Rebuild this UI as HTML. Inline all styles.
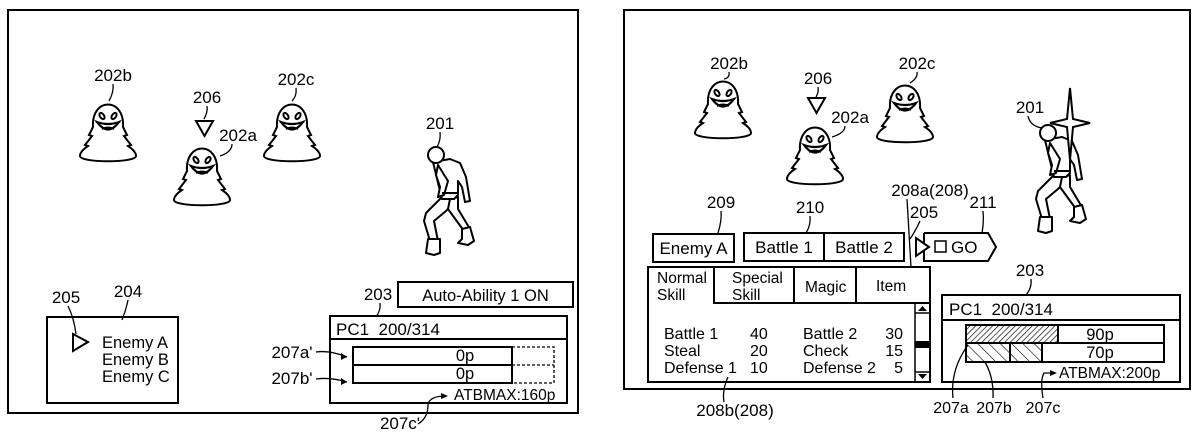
<!DOCTYPE html>
<html><head><meta charset="utf-8"><style>
html,body{margin:0;padding:0;background:#fff;}
svg{display:block;}
text{font-family:"Liberation Sans",sans-serif;fill:#000;}
</style></head><body>
<svg width="1200" height="437" viewBox="0 0 1200 437" xmlns="http://www.w3.org/2000/svg">
<defs>
<g id="ghost" fill="none" stroke="#000" stroke-width="2">
<path d="M-15 24 C-17 -6 17 -6 15 24 L19 32 L16 33 L23 42 L20 43 C26 47 28 50 28 53 C28 60 -28 60 -28 53 C-28 50 -26 47 -20 43 L-23 42 L-16 33 L-19 32 Z" fill="#fff"/>
<ellipse cx="-6" cy="13" rx="2" ry="3.5" transform="rotate(-35 -6 13)"/>
<ellipse cx="6" cy="13" rx="2" ry="3.5" transform="rotate(35 6 13)"/>
<path d="M-11 19 Q0 34 11 19 Q0 23 -11 19 Z" stroke-width="2.2"/>
<path d="M-6 26 Q0 23 6 26"/>
</g>
<g id="hero" fill="#fff" stroke="#000" stroke-width="2" stroke-linejoin="round">
<path d="M6 42 L-10 58 L-12 66 L-6 86 L2 86 L-2 66 L10 56 L22 44 Z"/>
<path d="M14 44 L12 54 L28 76 L34 74 L22 54 L22 42 Z"/>
<path d="M-8 84 L-10 98 L-2 100 L4 98 L4 84 Z"/>
<path d="M26 74 L26 84 L22 88 L32 90 L38 86 L34 72 Z"/>
<path d="M-3 7 L14 4 L24 8 L30 22 L34 46 L29 47 L26 32 L22 26 L22 40 L18 44 L6 44 L4 36 Z"/>
<path d="M2 10 L12 26 L8 40 L2 42 L4 32 L0 20 Z"/>
<path d="M6 38 L22 38" />
<circle cx="0" cy="0" r="8"/>
</g>
</defs>

<!-- LEFT PANEL -->
<rect x="8" y="10" width="570" height="403" fill="none" stroke="#000" stroke-width="2"/>
<use href="#ghost" x="108" y="103"/>
<use href="#ghost" x="202" y="147"/>
<use href="#ghost" x="292" y="103"/>
<use href="#hero" x="436" y="155"/>
<path d="M196 121 L213 121 L204.5 136 Z" fill="none" stroke="#000" stroke-width="2"/>
<g font-size="17" text-anchor="middle">
<text x="113" y="81">202b</text>
<text x="207" y="103">206</text>
<text x="238" y="141">202a</text>
<text x="296" y="85">202c</text>
<text x="440" y="129">201</text>
</g>
<g fill="none" stroke="#000" stroke-width="1.3">
<path d="M113 84 Q114 92 109 101"/><path d="M207 106 Q208 112 204 119"/>
<path d="M232 144 Q232 152 220 156"/><path d="M296 88 Q297 96 292 101"/>
<path d="M440 132 Q441 140 437 147"/>
</g>

<rect x="47" y="317" width="131" height="86" fill="none" stroke="#000" stroke-width="2"/>
<path d="M73 334 L88 342 L73 351 Z" fill="none" stroke="#000" stroke-width="2"/>
<g font-size="16.5">
<text x="102" y="348">Enemy A</text>
<text x="102" y="365">Enemy B</text>
<text x="102" y="382">Enemy C</text>
</g>
<g font-size="17" text-anchor="middle">
<text x="66" y="303">205</text>
<text x="128" y="297">204</text>
</g>
<path d="M68 306 Q74 318 76 334 M128 300 Q126 310 122 320" fill="none" stroke="#000" stroke-width="1.3"/>

<rect x="398" y="282" width="175" height="25" fill="none" stroke="#000" stroke-width="2"/>
<text x="485.5" y="301" font-size="16.5" text-anchor="middle">Auto-Ability 1 ON</text>
<text x="378" y="300" font-size="17" text-anchor="middle">203</text>
<path d="M380 303 Q381 310 376 317" fill="none" stroke="#000" stroke-width="1.3"/>
<rect x="330" y="316" width="237" height="87" fill="none" stroke="#000" stroke-width="2"/>
<line x1="330" y1="339" x2="567" y2="339" stroke="#000" stroke-width="2"/>
<text x="336" y="335" font-size="17" xml:space="preserve">PC1  200/314</text>
<rect x="353" y="347" width="159" height="36" fill="none" stroke="#000" stroke-width="2"/>
<line x1="353" y1="365" x2="512" y2="365" stroke="#000" stroke-width="2"/>
<path d="M512 347 L554 347 L554 383 L512 383 M512 365 L554 365" fill="none" stroke="#000" stroke-width="1.3" stroke-dasharray="3,2"/>
<g font-size="16.5" text-anchor="middle">
<text x="465" y="361">0p</text><text x="465" y="379">0p</text>
</g>
<g font-size="17" text-anchor="middle">
<text x="292" y="358">207a'</text><text x="292" y="384">207b'</text>
<text x="400" y="429">207c'</text>
</g>
<text x="454" y="400" font-size="15.5">ATBMAX:160p</text>
<g fill="none" stroke="#000" stroke-width="1.3">
<path d="M316 352 Q330 350 347 357"/><path d="M316 379 Q330 377 347 382"/>
<path d="M418 424 Q428 418 428 405 Q429 396 446 396"/>
</g>
<path d="M347 357 L341 353 L341 360 Z M347 382 L341 378 L341 385 Z M448 396 L441 393 L441 399 Z" fill="#000"/>

<!-- RIGHT PANEL -->
<rect x="624" y="10" width="566" height="379" fill="none" stroke="#000" stroke-width="2"/>
<use href="#ghost" x="723" y="80"/>
<use href="#ghost" x="815" y="126"/>
<use href="#ghost" x="905" y="84"/>
<use href="#hero" x="1048" y="133"/>
<path d="M1070 88 L1073 119 L1090 123 L1073 127 L1070 160 L1067 127 L1050 123 L1067 119 Z" fill="#fff" stroke="#000" stroke-width="2"/>
<path d="M808 98 L825 98 L816.5 113 Z" fill="none" stroke="#000" stroke-width="2"/>
<g font-size="17" text-anchor="middle">
<text x="729" y="69">202b</text>
<text x="818" y="84">206</text>
<text x="850" y="123">202a</text>
<text x="917" y="69">202c</text>
<text x="1030" y="113">201</text>
<text x="930" y="196">208a(208)</text>
<text x="721" y="208">209</text>
<text x="810" y="213">210</text>
<text x="924" y="218">205</text>
<text x="983" y="208">211</text>
</g>
<g fill="none" stroke="#000" stroke-width="1.3">
<path d="M729 72 Q730 78 724 79"/><path d="M818 87 Q819 92 816 97"/>
<path d="M845 126 Q845 133 832 137"/><path d="M917 72 Q918 78 910 83"/>
<path d="M1028 116 Q1030 126 1042 128"/>
<path d="M721 211 Q722 220 718 233"/><path d="M810 216 Q811 225 806 233"/>
<path d="M920 221 Q916 230 910 239"/><path d="M983 211 Q984 222 982 233"/>
<path d="M907 199 L911 267"/>
</g>

<rect x="653" y="234" width="81" height="28" fill="none" stroke="#000" stroke-width="2"/>
<text x="693.5" y="254" font-size="17" text-anchor="middle">Enemy A</text>
<rect x="744" y="233" width="160" height="28" fill="none" stroke="#000" stroke-width="2"/>
<line x1="824" y1="233" x2="824" y2="261" stroke="#000" stroke-width="2"/>
<text x="784" y="253" font-size="17" text-anchor="middle">Battle 1</text>
<text x="864" y="253" font-size="17" text-anchor="middle">Battle 2</text>
<path d="M916 238 L929 247 L916 256 Z" fill="none" stroke="#000" stroke-width="2"/>
<path d="M924 233 L988 233 L996 247 L988 261 L924 261 L924 251 M924 243 L924 233" fill="none" stroke="#000" stroke-width="2"/>
<rect x="935" y="241" width="11" height="11" fill="none" stroke="#000" stroke-width="1.5"/>
<text x="951" y="253" font-size="17">GO</text>

<path d="M648 267 L930 267 L930 382 L648 382 Z" fill="none" stroke="#000" stroke-width="2"/>
<path d="M714 267 L714 303 L930 303 M794 267 L794 303 M856 267 L856 303" fill="none" stroke="#000" stroke-width="2"/>
<g font-size="15.5">
<text x="657" y="283">Normal</text><text x="657" y="300">Skill</text>
<text x="732" y="283">Special</text><text x="732" y="300">Skill</text>
<text x="805" y="292">Magic</text>
<text x="876" y="291">Item</text>
</g>
<rect x="915" y="303" width="15" height="79" fill="none" stroke="#000" stroke-width="1.5"/>
<line x1="915" y1="313" x2="930" y2="313" stroke="#000" stroke-width="1.5"/>
<line x1="915" y1="372" x2="930" y2="372" stroke="#000" stroke-width="1.5"/>
<path d="M918 311 L922.5 306 L927 311 Z M918 374 L922.5 379 L927 374 Z" fill="#000"/>
<rect x="915" y="341" width="15" height="7" fill="#000"/>
<g font-size="16">
<text x="664" y="339">Battle 1</text><text x="750" y="339">40</text>
<text x="664" y="356">Steal</text><text x="750" y="356">20</text>
<text x="664" y="373">Defense 1</text><text x="750" y="373">10</text>
<text x="803" y="339">Battle 2</text>
<text x="803" y="356">Check</text>
<text x="803" y="373">Defense 2</text>
</g>
<g font-size="16" text-anchor="end">
<text x="903" y="339">30</text><text x="903" y="356">15</text><text x="903" y="373">5</text>
</g>
<text x="735" y="416" font-size="17" text-anchor="middle">208b(208)</text>
<path d="M728 377 Q722 390 724 402" fill="none" stroke="#000" stroke-width="1.3"/>

<text x="1030" y="276" font-size="17" text-anchor="middle">203</text>
<path d="M1031 279 Q1032 288 1026 295" fill="none" stroke="#000" stroke-width="1.3"/>
<rect x="942" y="295" width="238" height="87" fill="none" stroke="#000" stroke-width="2"/>
<line x1="942" y1="320" x2="1180" y2="320" stroke="#000" stroke-width="2"/>
<text x="949" y="315" font-size="17" xml:space="preserve">PC1  200/314</text>
<defs>
<pattern id="h1" width="4" height="4" patternUnits="userSpaceOnUse" patternTransform="rotate(45)"><line x1="0" y1="0" x2="0" y2="4" stroke="#000" stroke-width="1.3"/></pattern>
<pattern id="h2" width="8" height="8" patternUnits="userSpaceOnUse" patternTransform="rotate(-45)"><line x1="0" y1="0" x2="0" y2="8" stroke="#000" stroke-width="1.2"/></pattern>
</defs>
<rect x="966" y="325" width="92" height="18" fill="url(#h1)"/>
<rect x="966" y="343" width="76" height="19" fill="url(#h2)"/>
<rect x="966" y="325" width="198" height="37" fill="none" stroke="#000" stroke-width="2"/>
<path d="M966 343 L1164 343 M1058 325 L1058 343 M1010 343 L1010 362 M1042 343 L1042 362" stroke="#000" stroke-width="2"/>
<g font-size="16.5" text-anchor="middle">
<text x="1100" y="340">90p</text><text x="1100" y="358">70p</text>
</g>
<g font-size="16" text-anchor="middle">
<text x="951" y="413">207a</text><text x="994" y="413">207b</text><text x="1043" y="413">207c</text>
</g>
<text x="1059" y="378" font-size="15.5">ATBMAX:200p</text>
<g fill="none" stroke="#000" stroke-width="1.3">
<path d="M953 398 Q950 370 968 345"/><path d="M993 398 Q994 378 985 362"/>
<path d="M1043 398 Q1040 380 1044 373 L1054 373"/>
</g>
<path d="M1057 373 L1050 370 L1050 376 Z" fill="#000"/>
</svg>
</body></html>
